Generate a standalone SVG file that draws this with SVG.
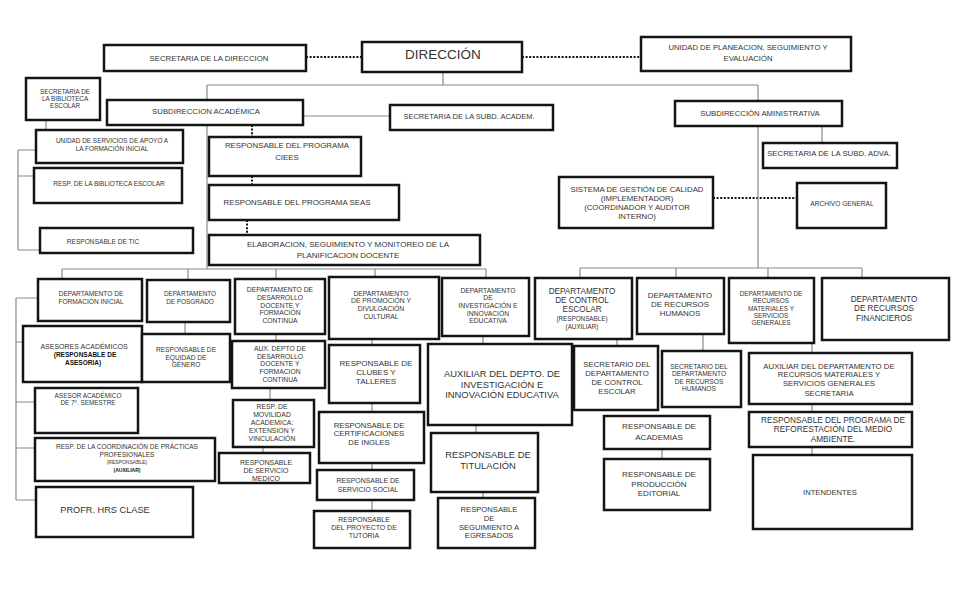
<svg xmlns="http://www.w3.org/2000/svg" width="966" height="600" viewBox="0 0 966 600">
<style>
.b{fill:#fff;stroke:#141414;stroke-width:2.5}
.t{font-family:"Liberation Sans",Arial,sans-serif;fill:#333;text-anchor:middle}
.l{stroke:#8a8a8a;stroke-width:1.2;fill:none}
.d{stroke:#141414;stroke-width:2;stroke-dasharray:2 1.6;fill:none}
.k{font-weight:700;fill:#111}
</style>
<rect width="966" height="600" fill="#fff"/>
<g id="connectors">
<path class="d" d="M306 57H362M522 57H641M252 125V137M252 176V185M247 220V235M713 198H797"/>
<path class="l" d="M443 72V85M207 85H758M207 85V100M758 85V101M302 116H390M46 120V130M18 150V250M18 150H36M18 176H34M18 250H40M207 125V269M62 269H486M62 269V279M188 269V280M276 269V279M375 269V277M486 269V278M16 298V500M16 298H38M16 342H23M16 402H35M16 448H35M16 500H36M185 322V334M276 334V341M270 388V400M263 447V453M372 339V345M372 403V412M372 463V470M372 500V511M483 336V344M476 425V433M483 492V498M758 126V268M822 126V143M580 268H862M580 268V278M676 268V278M768 268V278M862 268V278M617 339V346M703 334V351M812 343V353M812 404V412M812 447V455M662 449V459"/>
</g>
<g id="sec-direccion"><rect class="b" x="104" y="45" width="202" height="26"/><text class="t" x="209" y="61.1" font-size="7.8">SECRETARIA DE LA DIRECCION</text></g>
<g id="direccion"><rect class="b" x="362" y="42" width="160" height="30"/><text class="t" x="443" y="58.5" font-size="13.5">DIRECCIÓN</text></g>
<g id="unidad-planeacion"><rect class="b" x="641" y="37" width="210" height="34"/><text class="t" font-size="7.7"><tspan x="748" y="50.1">UNIDAD DE PLANEACION, SEGUIMIENTO Y</tspan><tspan x="748" y="61.1">EVALUACIÓN</tspan></text></g>
<g id="subdireccion-academica"><rect class="b" x="107" y="100" width="196" height="25"/><text class="t" x="206" y="113.8" font-size="7.8">SUBDIRECCION ACADÉMICA</text></g>
<g id="sec-subd-academ"><rect class="b" x="390" y="105" width="163" height="25"/><text class="t" x="469" y="118.7" font-size="7.5">SECRETARIA DE LA SUBD. ACADEM.</text></g>
<g id="subdireccion-administrativa"><rect class="b" x="675" y="101" width="167" height="25"/><text class="t" x="760" y="116.1" font-size="7.75">SUBDIRECCIÓN AMINISTRATIVA</text></g>
<g id="sec-biblioteca"><rect class="b" x="26" y="78" width="74" height="42"/><text class="t" font-size="6.3"><tspan x="65" y="93.8">SECRETARIA DE</tspan><tspan x="65" y="100.9">LA BIBLIOTECA</tspan><tspan x="65" y="108">ESCOLAR</tspan></text></g>
<g id="unidad-servicios"><rect class="b" x="36" y="130" width="147" height="33"/><text class="t" font-size="6.4"><tspan x="112" y="143">UNIDAD DE SERVICIOS DE APOYO A</tspan><tspan x="112" y="150.6">LA FORMACIÓN INICIAL</tspan></text></g>
<g id="resp-biblioteca"><rect class="b" x="34" y="168" width="148" height="35"/><text class="t" x="109" y="185.6" font-size="6.5">RESP. DE LA BIBLIOTECA ESCOLAR</text></g>
<g id="resp-tic"><rect class="b" x="40" y="228" width="153" height="25"/><text class="t" x="103" y="244.1" font-size="6.6">RESPONSABLE DE TIC</text></g>
<g id="ciees"><rect class="b" x="209" y="137" width="152" height="39"/><text class="t" font-size="7.9"><tspan x="287" y="147.8">RESPONSABLE DEL PROGRAMA</tspan><tspan x="287" y="159.5">CIEES</tspan></text></g>
<g id="seas"><rect class="b" x="209" y="185" width="190" height="35"/><text class="t" x="297" y="205.1" font-size="7.9">RESPONSABLE DEL PROGRAMA SEAS</text></g>
<g id="elaboracion"><rect class="b" x="209" y="235" width="271" height="30"/><text class="t" font-size="8"><tspan x="348" y="246.9">ELABORACION, SEGUIMIENTO Y MONITOREO DE LA</tspan><tspan x="348" y="257.9">PLANIFICACION DOCENTE</tspan></text></g>
<g id="sgc"><rect class="b" x="559" y="177" width="154" height="51"/><text class="t" font-size="7.8"><tspan x="637" y="192.4">SISTEMA DE GESTIÓN DE CALIDAD</tspan><tspan x="637" y="201.4">(IMPLEMENTADOR)</tspan><tspan x="637" y="210.4">(COORDINADOR Y AUDITOR</tspan><tspan x="637" y="219.4">INTERNO)</tspan></text></g>
<g id="archivo"><rect class="b" x="797" y="183" width="89" height="45"/><text class="t" x="842" y="206.4" font-size="6.6">ARCHIVO GENERAL</text></g>
<g id="sec-subd-adva"><rect class="b" x="763" y="143" width="134" height="25"/><text class="t" x="829" y="156.1" font-size="7.8">SECRETARIA DE LA SUBD. ADVA.</text></g>
<g id="formacion-inicial"><rect class="b" x="38" y="279" width="104" height="42"/><text class="t" font-size="6.6"><tspan x="91" y="296.4">DEPARTAMENTO DE</tspan><tspan x="91" y="304.1">FORMACIÓN INICIAL</tspan></text></g>
<g id="posgrado"><rect class="b" x="147" y="280" width="83" height="42"/><text class="t" font-size="6.4"><tspan x="190" y="296.3">DEPARTAMENTO</tspan><tspan x="190" y="304">DE POSGRADO</tspan></text></g>
<g id="desarrollo"><rect class="b" x="235" y="279" width="90" height="55"/><text class="t" font-size="6.75"><tspan x="280" y="292.4">DEPARTAMENTO DE</tspan><tspan x="280" y="300.1">DESARROLLO</tspan><tspan x="280" y="307.7">DOCENTE Y</tspan><tspan x="280" y="315.4">FORMACIÓN</tspan><tspan x="280" y="323">CONTINUA</tspan></text></g>
<g id="promocion"><rect class="b" x="329" y="277" width="110" height="62"/><text class="t" font-size="6.75"><tspan x="381" y="295.7">DEPARTAMENTO</tspan><tspan x="381" y="303.4">DE PROMOCIÓN Y</tspan><tspan x="381" y="311.4">DIVULGACIÓN</tspan><tspan x="381" y="319.1">CULTURAL</tspan></text></g>
<g id="investigacion"><rect class="b" x="442" y="278" width="87" height="58"/><text class="t" font-size="6.75"><tspan x="488" y="292.6">DEPARTAMENTO</tspan><tspan x="488" y="300.3">DE</tspan><tspan x="488" y="307.9">INVESTIGACIÓN E</tspan><tspan x="488" y="315.6">INNOVACIÓN</tspan><tspan x="488" y="323.2">EDUCATIVA</tspan></text></g>
<g id="control-escolar"><rect class="b" x="535" y="278" width="97" height="61"/><text class="t" font-size="8.2"><tspan x="582" y="293.6">DEPARTAMENTO</tspan><tspan x="582" y="302.9">DE CONTROL</tspan><tspan x="582" y="312.2">ESCOLAR</tspan><tspan x="582" y="320.6" font-size="6.3">(RESPONSABLE)</tspan><tspan x="582" y="329" font-size="6.3">(AUXILIAR)</tspan></text></g>
<g id="recursos-humanos"><rect class="b" x="637" y="278" width="87" height="56"/><text class="t" font-size="7.9"><tspan x="680" y="297.9">DEPARTAMENTO</tspan><tspan x="680" y="306.8">DE RECURSOS</tspan><tspan x="680" y="315.7">HUMANOS</tspan></text></g>
<g id="recursos-materiales"><rect class="b" x="729" y="278" width="85" height="65"/><text class="t" font-size="6.4"><tspan x="771" y="296.1">DEPARTAMENTO DE</tspan><tspan x="771" y="303.4">RECURSOS</tspan><tspan x="771" y="310.6">MATERIALES Y</tspan><tspan x="771" y="317.9">SERVICIOS</tspan><tspan x="771" y="325.1">GENERALES</tspan></text></g>
<g id="recursos-financieros"><rect class="b" x="822" y="278" width="127" height="62"/><text class="t" font-size="8.2"><tspan x="884" y="302">DEPARTAMENTO</tspan><tspan x="884" y="311.3">DE RECURSOS</tspan><tspan x="884" y="320.6">FINANCIEROS</tspan></text></g>
<g id="asesores"><rect class="b" x="23" y="326" width="119" height="56"/><text class="t" font-size="7"><tspan x="84" y="348.5">ASESORES ACADÉMICOS</tspan><tspan x="85" y="356.8" font-size="6.5" class="k">(RESPONSABLE DE</tspan><tspan x="83" y="364.7" font-size="6.5" class="k">ASESORIA)</tspan></text></g>
<g id="equidad"><rect class="b" x="142" y="334" width="88" height="48"/><text class="t" font-size="6.6"><tspan x="186" y="352.4">RESPONSABLE DE</tspan><tspan x="186" y="359.9">EQUIDAD DE</tspan><tspan x="186" y="367.4">GÉNERO</tspan></text></g>
<g id="aux-desarrollo"><rect class="b" x="232" y="341" width="93" height="47"/><text class="t" font-size="6.75"><tspan x="280" y="350.7">AUX. DEPTO DE</tspan><tspan x="280" y="358.5">DESARROLLO</tspan><tspan x="280" y="366.2">DOCENTE Y</tspan><tspan x="280" y="374">FORMACION</tspan><tspan x="280" y="381.7">CONTINUA</tspan></text></g>
<g id="asesor-7"><rect class="b" x="35" y="388" width="103" height="45"/><text class="t" font-size="6.4"><tspan x="88" y="397.7">ASESOR ACADÉMICO</tspan><tspan x="88" y="405">DE 7º. SEMESTRE</tspan></text></g>
<g id="practicas"><rect class="b" x="35" y="438" width="180" height="43"/><text class="t" font-size="6.5"><tspan x="127" y="449">RESP. DE LA COORDINACIÓN DE PRÁCTICAS</tspan><tspan x="127" y="456.6">PROFESIONALES</tspan><tspan x="127" y="463.5" font-size="5">(RESPONSABLE)</tspan><tspan x="127" y="471.8" font-size="5" class="k">(AUXILIAR)</tspan></text></g>
<g id="profr"><rect class="b" x="36" y="487" width="157" height="50"/><text class="t" x="105" y="513.3" font-size="9.2">PROFR. HRS CLASE</text></g>
<g id="movilidad"><rect class="b" x="233" y="400" width="81" height="47"/><text class="t" font-size="6.85"><tspan x="272" y="409.2">RESP. DE</tspan><tspan x="272" y="417">MOVILIDAD</tspan><tspan x="272" y="424.9">ACADEMICA:</tspan><tspan x="272" y="432.8">EXTENSION Y</tspan><tspan x="272" y="440.7">VINCULACIÓN</tspan></text></g>
<g id="servicio-medico"><rect class="b" x="219" y="453" width="91" height="30"/><text class="t" font-size="7"><tspan x="266" y="464.7">RESPONSABLE</tspan><tspan x="266" y="472.6">DE SERVICIO</tspan><tspan x="266" y="480.5">MEDICO</tspan></text></g>
<g id="clubes"><rect class="b" x="329" y="345" width="91" height="58"/><text class="t" font-size="8"><tspan x="376" y="366.4">RESPONSABLE DE</tspan><tspan x="376" y="375.4">CLUBES Y</tspan><tspan x="376" y="384.4">TALLERES</tspan></text></g>
<g id="aux-investigacion"><rect class="b" x="428" y="344" width="144" height="81" stroke-width="3"/><text class="t" font-size="9.4"><tspan x="502" y="377.1">AUXILIAR DEL DEPTO. DE</tspan><tspan x="502" y="387.7">INVESTIGACIÓN E</tspan><tspan x="502" y="398.3">INNOVACIÓN EDUCATIVA</tspan></text></g>
<g id="certificaciones"><rect class="b" x="319" y="412" width="105" height="51"/><text class="t" font-size="7.75"><tspan x="369" y="427.5">RESPONSABLE DE</tspan><tspan x="369" y="436.3">CERTIFICACIONES</tspan><tspan x="369" y="445.1">DE INGLES</tspan></text></g>
<g id="servicio-social"><rect class="b" x="317" y="470" width="97" height="30"/><text class="t" font-size="6.95"><tspan x="368" y="483.2">RESPONSABLE DE</tspan><tspan x="368" y="491.5">SERVICIO SOCIAL</tspan></text></g>
<g id="tutoria"><rect class="b" x="314" y="511" width="96" height="37"/><text class="t" font-size="6.95"><tspan x="364" y="521.5">RESPONSABLE</tspan><tspan x="364" y="529.8">DEL PROYECTO DE</tspan><tspan x="364" y="537.5">TUTORIA</tspan></text></g>
<g id="titulacion"><rect class="b" x="431" y="433" width="107" height="59"/><text class="t" font-size="9.4"><tspan x="488" y="458.4">RESPONSABLE DE</tspan><tspan x="488" y="469.1">TITULACIÓN</tspan></text></g>
<g id="egresados"><rect class="b" x="438" y="498" width="97" height="50"/><text class="t" font-size="7.65"><tspan x="489" y="512.05">RESPONSABLE</tspan><tspan x="489" y="521.05">DE</tspan><tspan x="489" y="530.05">SEGUIMIENTO A</tspan><tspan x="489" y="538.45">EGRESADOS</tspan></text></g>
<g id="sec-control-escolar"><rect class="b" x="574" y="346" width="84" height="64"/><text class="t" font-size="7.8"><tspan x="617" y="367.45">SECRETARIO DEL</tspan><tspan x="617" y="376.25">DEPARTAMENTO</tspan><tspan x="617" y="385.05">DE CONTROL</tspan><tspan x="617" y="393.85">ESCOLAR</tspan></text></g>
<g id="sec-rh"><rect class="b" x="662" y="351" width="79" height="56"/><text class="t" font-size="6.65"><tspan x="699" y="368.95">SECRETARIO DEL</tspan><tspan x="699" y="376.45">DEPARTAMENTO</tspan><tspan x="699" y="383.95">DE RECURSOS</tspan><tspan x="699" y="391.45">HUMANOS</tspan></text></g>
<g id="aux-rm"><rect class="b" x="749" y="353" width="163" height="51"/><text class="t" font-size="7.8"><tspan x="829" y="368.5">AUXILIAR DEL DEPARTAMENTO DE</tspan><tspan x="829" y="377.1">RECURSOS MATERIALES Y</tspan><tspan x="829" y="386.1">SERVICIOS GENERALES</tspan><tspan x="829" y="395.5">SECRETARIA</tspan></text></g>
<g id="academias"><rect class="b" x="604" y="416" width="106" height="33"/><text class="t" font-size="8.1"><tspan x="659" y="428.6">RESPONSABLE DE</tspan><tspan x="659" y="439.6">ACADEMIAS</tspan></text></g>
<g id="produccion"><rect class="b" x="604" y="459" width="106" height="51"/><text class="t" font-size="8.1"><tspan x="659" y="477.45">RESPONSABLE DE</tspan><tspan x="659" y="486.6">PRODUCCIÓN</tspan><tspan x="659" y="495.75">EDITORIAL</tspan></text></g>
<g id="reforestacion"><rect class="b" x="749" y="412" width="163" height="35"/><text class="t" font-size="8.3"><tspan x="833" y="422.8">RESPONSABLE DEL PROGRAMA DE</tspan><tspan x="833" y="432.2">REFORESTACIÓN DEL MEDIO</tspan><tspan x="833" y="441.6">AMBIENTE.</tspan></text></g>
<g id="intendentes"><rect class="b" x="753" y="455" width="159" height="74"/><text class="t" x="830" y="495.05" font-size="7.65">INTENDENTES</text></g>
</svg>
